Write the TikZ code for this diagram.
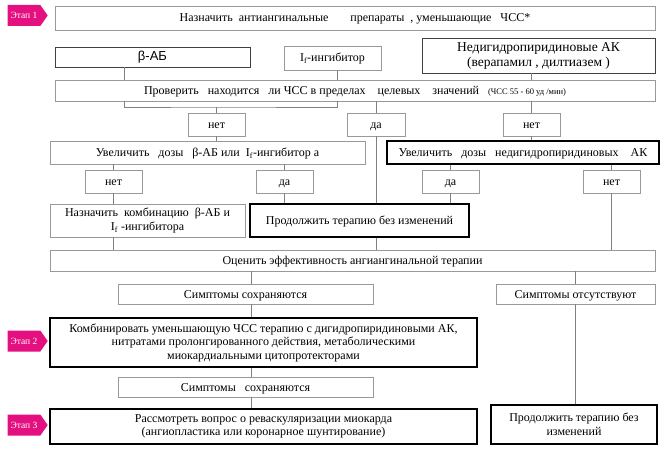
\documentclass[tikz,border=0pt]{standalone}
\usepackage{fontspec}
\setmainfont{Liberation Serif}
\newfontfamily\arialfont{Liberation Sans}
\usetikzlibrary{shapes.symbols}
\definecolor{stagepink}{HTML}{E4107F}
\newcommand{\Isub}{I\textsubscript{f}}
\tikzset{
  box/.style={draw=black!40,line width=0.6pt,inner sep=0pt,align=center,text height=10pt,text depth=2pt,font=\fontsize{12}{13.5}\selectfont},
  multi/.style={text height={},text depth={}},
  darkbox/.style={box,draw=black!75},
  boldbox/.style={box,draw=black,line width=1.2pt},
  wh/.style 2 args={minimum width=#1,minimum height=#2},
  stage/.style={signal,signal to=east,signal pointer angle=110,fill=stagepink,text=white,inner sep=0pt,minimum width=40,minimum height=21,font=\fontsize{9.5}{10}\selectfont},
  link/.style={draw=black!50,line width=0.6pt}
}
\begin{document}
\begin{tikzpicture}[x=1pt,y=-1pt]
   \useasboundingbox (0,0) rectangle (661,449);
   %stages
   \node[stage] (st1) at (24,15.5) {Этап 1};
   \node[stage] (st2) at (24,341) {Этап 2};
   \node[stage] (st3) at (24,425) {Этап 3};
   %step 1
   \node[box,wh={600}{24}] (start) at (355,18) {Назначить~~антиангинальные\hspace{22pt}препараты~~, уменьшающие~~~ЧСС*};
   \node[darkbox,wh={195}{20},font=\arialfont\fontsize{13}{14}\selectfont] (bab) at (152.5,57) {β-АБ};
   \node[box,wh={97}{24}] (ifi) at (332.5,58) {\Isub-ингибитор};
   \node[darkbox,multi,wh={233}{35},font=\fontsize{13.5}{15}\selectfont] (ndhp) at (538.5,55.5) {Недигидропиридиновые АК\\(верапамил , дилтиазем )};
   \node[box,wh={600}{21}] (check) at (355,90.5) {Проверить~~~находится~~~ли ЧСС в пределах~~~~целевых~~~~значений~~~{\fontsize{8.5}{9}\selectfont(ЧСС 55 - 60 уд /мин)}};
   %answers
   \node[box,wh={57}{23}] (no1) at (216.5,124.5) {нет};
   \node[box,wh={58}{23}] (yes1) at (376,124.5) {да};
   \node[box,wh={57}{23}] (no2) at (531.5,124.5) {нет};
   \node[box,wh={315}{23}] (incbab) at (207.5,152.5) {Увеличить~~~дозы~~~β-АБ или~~\Isub-ингибитор а};
   \node[boldbox,wh={272}{23}] (incnd) at (523,152.5) {Увеличить~~~дозы~~~недигидропиридиновых~~~~АК};
   \node[box,wh={57}{23}] (no3) at (113.5,181.5) {нет};
   \node[box,wh={57}{23}] (yes2) at (284.5,181.5) {да};
   \node[box,wh={57}{23}] (yes3) at (450.5,181.5) {да};
   \node[box,wh={57}{23}] (no4) at (611.5,181.5) {нет};
   \node[box,multi,wh={195}{33}] (combo) at (147.5,220.5) {Назначить~~комбинацию~~β-АБ и\\\Isub~-ингибитора};
   \node[boldbox,wh={219}{33}] (keep) at (359.5,220.5) {Продолжить терапию без изменений};
   %evaluation
   \node[box,wh={605}{21}] (eval) at (352.5,260.5) {Оценить эффективность ангиангинальной терапии};
   \node[box,wh={255}{20}] (symp) at (245.5,294) {Симптомы сохраняются};
   \node[box,wh={159}{20}] (nosymp) at (575.5,294) {Симптомы отсутствуют};
   %step 2, 3
   \node[boldbox,multi,wh={427}{49}] (comb) at (263.5,342.5) {Комбинировать уменьшающую ЧСС терапию с дигидропиридиновыми АК,\\нитратами пролонгированного действия, метаболическими\\миокардиальными цитопротекторами};
   \node[box,wh={255}{20}] (symp2) at (245.5,387) {Симптомы~~~сохраняются};
   \node[boldbox,multi,wh={427}{35}] (revasc) at (263.5,426.5) {Рассмотреть вопрос о реваскуляризации миокарда\\(ангиопластика или коронарное шунтирование)};
   \node[boldbox,multi,wh={166}{39}] (keep2) at (574,424.5) {Продолжить терапию без\\изменений};
   %links
   \coordinate (xl) at (124,0);
   \coordinate (xr) at (337,0);
   \coordinate (xm) at (251,0);
   \coordinate (brk) at (216.5,107);
   \draw[link] (bab.south -| xl) -- (check.north -| xl);
   \draw[link] (ifi.south -| xr) -- (check.north -| xr);
   \draw[link] (ndhp.south -| no2.north) -- (check.north -| no2.north);
   \draw[link] (check.south -| xl) |- (brk) -| (check.south -| xr);
   \draw[link] (brk) -- (no1.north);
   \draw[link] (check.south -| yes1.north) -- (yes1.north);
   \draw[link] (check.south -| no2.north) -- (no2.north);
   \draw[link] (no1.south) -- (no1.south |- incbab.north);
   \draw[link] (yes1.south) -- (yes1.south |- keep.north);
   \draw[link] (keep.south -| yes1.south) -- (eval.north -| yes1.south);
   \draw[link] (no2.south) -- (no2.south |- incnd.north);
   \draw[link] (incbab.south -| no3.north) -- (no3.north);
   \draw[link] (incbab.south -| yes2.north) -- (yes2.north);
   \draw[link] (incnd.south -| yes3.north) -- (yes3.north);
   \draw[link] (incnd.south -| no4.north) -- (no4.north);
   \draw[link] (no3.south) -- (no3.south |- combo.north);
   \draw[link] (combo.south -| no3.south) -- (eval.north -| no3.south);
   \draw[link] (yes2.south) -- (yes2.south |- keep.north);
   \draw[link] (yes3.south) -- (yes3.south |- keep.north);
   \draw[link] (no4.south) -- (no4.south |- eval.north);
   \draw[link] (eval.south -| xm) -- (symp.north -| xm);
   \draw[link] (eval.south -| nosymp.north) -- (nosymp.north);
   \draw[link] (symp.south -| xm) -- (comb.north -| xm);
   \draw[link] (comb.south -| xm) -- (symp2.north -| xm);
   \draw[link] (symp2.south -| xm) -- (revasc.north -| xm);
   \draw[link] (nosymp.south) -- (nosymp.south |- keep2.north);
\end{tikzpicture}
\end{document}
